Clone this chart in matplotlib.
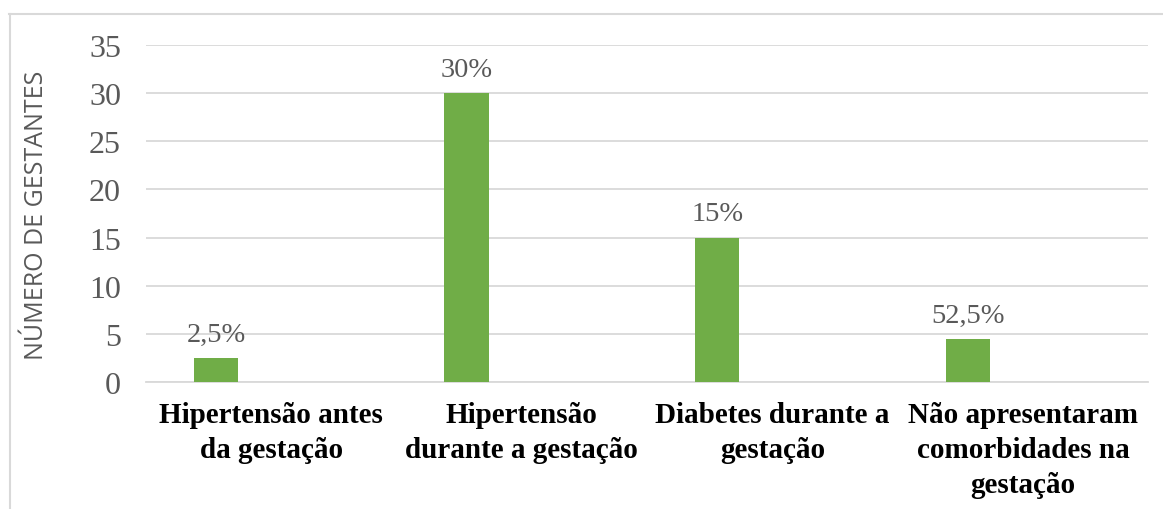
import matplotlib.pyplot as plt
import numpy as np
from matplotlib.lines import Line2D

categories = [
    "Hipertensão antes\nda gestação",
    "Hipertensão\ndurante a gestação",
    "Diabetes durante a\ngestação",
    "Não apresentaram\ncomorbidades na\ngestação",
]
values = [2.5, 30, 15, 4.5]
labels = ["2,5%", "30%", "15%", "52,5%"]
yticks = [0, 5, 10, 15, 20, 25, 30, 35]

green = "#70AD47"
gray_text = "#595959"
grid_color = "#D9D9D9"

fig = plt.figure(figsize=(11.63, 5.10), dpi=100)
ax = fig.add_axes([0.1255, 0.249, 0.862, 0.661])

x = np.arange(len(categories))
bars = ax.bar(x - 0.221, values, width=0.176, color=green, zorder=3)

for b, lab in zip(bars, labels):
    ax.annotate(lab, (b.get_x() + b.get_width() / 2, b.get_height()),
                xytext=(0, 8), textcoords="offset points",
                ha="center", va="bottom", fontsize=20.5,
                family="Liberation Serif", color=gray_text)

ax.set_xlim(-0.5, 3.5)
ax.set_ylim(0, 35)
ax.set_yticks(yticks)
ax.set_yticklabels([str(t) for t in yticks], family="Liberation Serif",
                   fontsize=23, color=gray_text)
ax.set_xticks(x)
ax.set_xticklabels(categories, family="Liberation Serif", fontweight="bold",
                   fontsize=21, color="black", linespacing=1.38)
ax.tick_params(axis="y", length=0, pad=18)
ax.tick_params(axis="x", length=0, pad=14)

ax.grid(axis="y", color=grid_color, linewidth=1.3, zorder=0)
ax.set_axisbelow(True)
for s in ["top", "right", "left"]:
    ax.spines[s].set_visible(False)
ax.spines["bottom"].set_color(grid_color)
ax.spines["bottom"].set_linewidth(1.3)

fig.text(0.031, 0.578, "NÚMERO DE GESTANTES", rotation=90, ha="center",
         va="center", fontsize=18, family="Open Sans", color=gray_text)

# chart frame (only top and left edges visible in the crop)
fig.add_artist(Line2D([9 / 1163, 1.0], [1 - 15 / 510, 1 - 15 / 510],
                      color=grid_color, linewidth=1.5, transform=fig.transFigure))
fig.add_artist(Line2D([9.5 / 1163, 9.5 / 1163], [0.0, 1 - 15 / 510],
                      color=grid_color, linewidth=1.5, transform=fig.transFigure))

fig.savefig("out.png", dpi=100, facecolor="white")
